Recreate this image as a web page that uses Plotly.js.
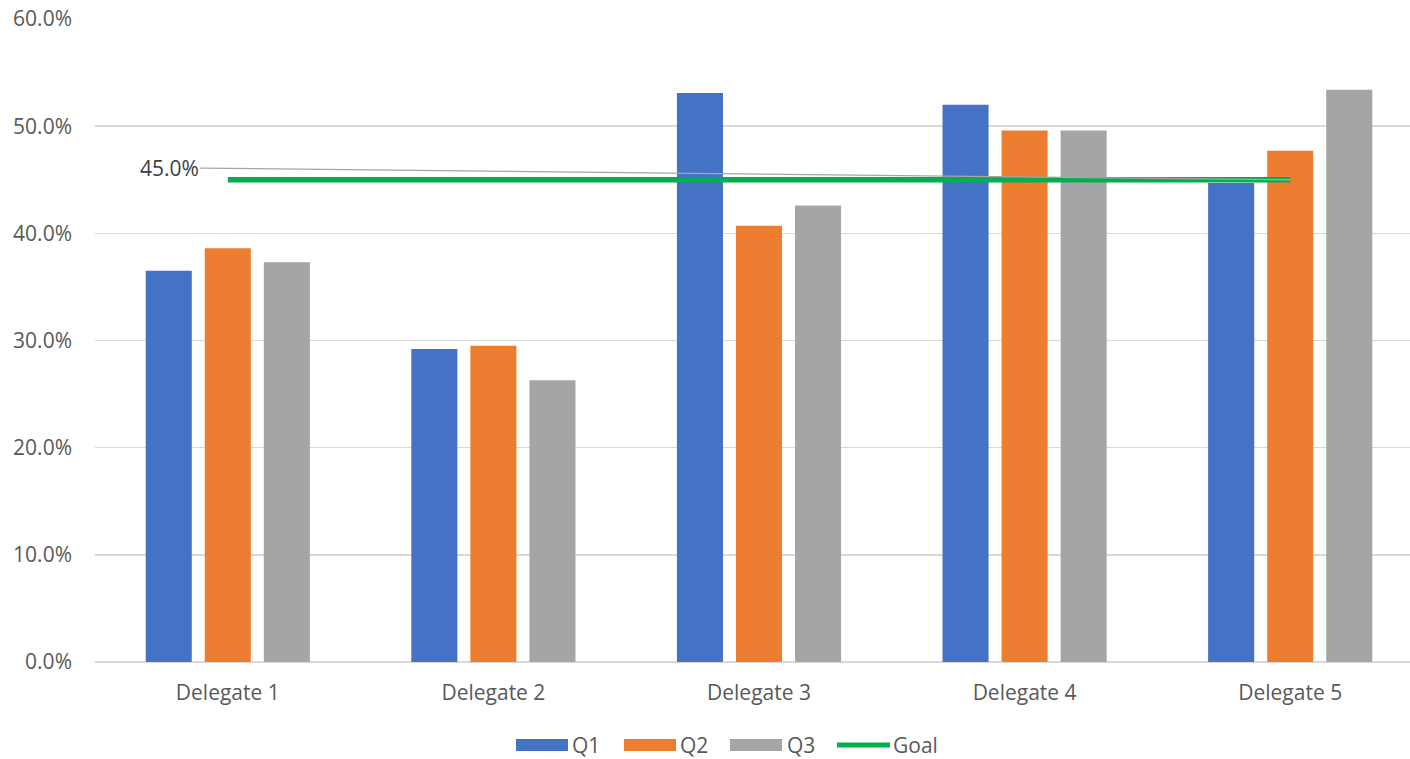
<!DOCTYPE html>
<html>
<head>
<meta charset="utf-8">
<script src="https://cdn.plot.ly/plotly-3.0.1.min.js"></script>
<style>html,body{margin:0;padding:0;background:#fff;overflow:hidden;width:1410px;height:759px;}#chart{width:1423px;height:759px;}</style>
</head>
<body>
<div id="chart"></div>
<script>
const categories = ["Delegate 1", "Delegate 2", "Delegate 3", "Delegate 4", "Delegate 5"];
const q1 = [0.365, 0.292, 0.531, 0.520, 0.447];
const q2 = [0.386, 0.295, 0.407, 0.496, 0.477];
const q3 = [0.373, 0.263, 0.426, 0.496, 0.534];
const goal = [0.45, 0.45, 0.45, 0.45, 0.45];
const seriesNames = ["Q1", "Q2", "Q3", "Goal"];
const goalLabel = "45.0%";

const colors = ["#4472c4", "#ed7d31", "#a5a5a5", "#00b050"];
const FONT = "Open Sans, Noto Sans, sans-serif";
const FS = 21;

const traces = [q1, q2, q3].map((vals, i) => ({
  type: "bar", x: categories, y: vals, name: seriesNames[i],
  marker: {color: colors[i]}, showlegend: false, hoverinfo: "skip"
}));
traces.push({
  type: "scatter", mode: "lines", x: categories, y: goal, name: seriesNames[3],
  line: {color: colors[3], width: 5.5}, showlegend: false, hoverinfo: "skip"
});

// layout geometry (pixels)
const W = 1423, H = 759, ML = 95, MR = 0, MT = 19, MB = 97;
const pw = W - ML - MR, ph = H - MT - MB;
const px = v => (v - ML) / pw;
const py = v => (H - MB - v) / ph;

// custom legend (Excel style)
const legY = 745;
const legItems = [
  {x0: 516, x1: 568, tx: 570, kind: "bar"},
  {x0: 624, x1: 676, tx: 678, kind: "bar"},
  {x0: 730, x1: 782, tx: 785, kind: "bar"},
  {x0: 837, x1: 890, tx: 891, kind: "line"}
];
const shapes = [], annotations = [];
legItems.forEach((it, i) => {
  if (it.kind === "bar") {
    shapes.push({type: "rect", xref: "paper", yref: "paper",
      x0: px(it.x0), x1: px(it.x1), y0: py(legY + 6), y1: py(legY - 6),
      fillcolor: colors[i], line: {width: 0}});
  } else {
    shapes.push({type: "line", xref: "paper", yref: "paper",
      x0: px(it.x0), x1: px(it.x1), y0: py(legY), y1: py(legY),
      line: {color: colors[i], width: 5}});
  }
  annotations.push({xref: "paper", yref: "paper", x: px(it.tx), y: py(legY),
    xanchor: "left", yanchor: "middle", showarrow: false, text: seriesNames[i],
    font: {family: FONT, size: FS, color: "#595959"}});
});

// data label with leader line for the goal
annotations.push({
  x: categories[categories.length - 1], y: goal[goal.length - 1], xref: "x", yref: "y",
  text: goalLabel, showarrow: true, arrowhead: 0, arrowwidth: 1.3, arrowcolor: "#a6a6a6",
  ax: -1121, ay: -12, standoff: 0, startstandoff: 0,
  font: {family: FONT, size: FS, color: "#404040"}
});

const layout = {
  width: W, height: H,
  margin: {l: ML, r: MR, t: MT, b: MB, pad: 0},
  paper_bgcolor: "#ffffff", plot_bgcolor: "#ffffff",
  barmode: "group", bargap: 0.333, bargroupgap: 0.22,
  showlegend: false,
  font: {family: FONT, size: FS, color: "#595959"},
  xaxis: {
    type: "category", showgrid: false, zeroline: false,
    showline: false, ticks: "", ticklabelstandoff: 16,
    tickfont: {family: FONT, size: FS, color: "#595959"}, fixedrange: true
  },
  yaxis: {
    range: [0, 0.6], tickvals: [0, 0.1, 0.2, 0.3, 0.4, 0.5, 0.6],
    tickformat: ".1%", showgrid: true, gridcolor: "#d9d9d9", gridwidth: 1.5,
    zeroline: true, zerolinecolor: "#d9d9d9", zerolinewidth: 1.5,
    showline: false, ticks: "", ticklabelstandoff: 22,
    tickfont: {family: FONT, size: FS, color: "#595959"}, fixedrange: true
  },
  shapes: shapes,
  annotations: annotations
};

Plotly.newPlot("chart", traces, layout, {displayModeBar: false, staticPlot: true});
</script>
</body>
</html>
